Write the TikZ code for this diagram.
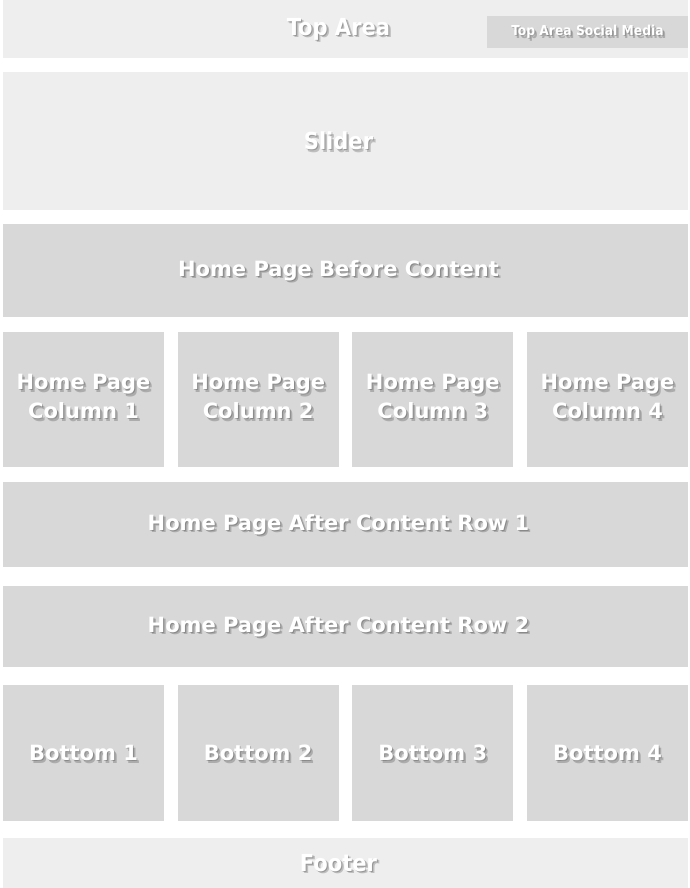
\documentclass[tikz,border=0pt]{standalone}
\usepackage{fontspec}
\setmainfont{DejaVu Sans}
\newfontfamily\condfont{DejaVu Sans Condensed}
\usetikzlibrary{positioning}
\definecolor{areaLight}{HTML}{EEEEEE}
\definecolor{areaDark}{HTML}{D8D8D8}

\begin{document}
\begin{tikzpicture}[node distance=14pt]
    % Define block styles
    \tikzstyle{area} = [rectangle, inner sep=0pt, outer sep=0pt, minimum width=685pt]
    \tikzstyle{light} = [area, fill=areaLight]
    \tikzstyle{dark} = [area, fill=areaDark]
    \tikzstyle{column} = [area, fill=areaDark, minimum width=161pt, minimum height=135pt]
    \tikzstyle{shade} = [text=black, opacity=0.2, align=center]
    \tikzstyle{caption} = [text=white, align=center]
    \tikzset{
      big/.style={font=\bfseries\fontsize{21}{29}\selectfont},
      cond/.style={font=\condfont\bfseries\fontsize{23.4}{28}\selectfont},
      tiny/.style={font=\condfont\bfseries\fontsize{13.7}{16}\selectfont},
      says/.style 2 args={
        label={[shade,#1,xshift=1pt,yshift=-1pt]center:#2},
        label={[shade,#1,xshift=2.5pt,yshift=-2.5pt]center:#2},
        label={[caption,#1]center:#2}}
    }

    \useasboundingbox (0,0) rectangle (690pt,-888pt);

    % Nodes
    \node[light, minimum height=58pt, anchor=north west, says={cond,xshift=-7pt}{Top Area}] (top) at (3pt,0) {};
    \node[dark, minimum width=201pt, minimum height=32pt, below left=16pt and 0pt of top.north east, says={tiny}{Top Area Social Media}] (social) {};
    \node[light, minimum height=138pt, below=of top, says={cond,xshift=-7pt}{Slider}] (slider) {};
    \node[dark, minimum height=93pt, below=of slider, says={big,xshift=-7pt}{Home Page Before Content}] (before) {};

    \node[column, below=15pt of before.south west, anchor=north west, says={big,yshift=3pt}{Home Page\\Column 1}] (col1) {};
    \node[column, right=13.67pt of col1, says={big,yshift=3pt}{Home Page\\Column 2}] (col2) {};
    \node[column, right=13.67pt of col2, says={big,yshift=3pt}{Home Page\\Column 3}] (col3) {};
    \node[column, right=13.67pt of col3, says={big,yshift=3pt}{Home Page\\Column 4}] (col4) {};

    \node[dark, minimum height=85pt, below=15pt of col1.south west, anchor=north west, says={big,xshift=-7pt}{Home Page After Content Row 1}] (row1) {};
    \node[dark, minimum height=81pt, below=19pt of row1, says={big,xshift=-7pt}{Home Page After Content Row 2}] (row2) {};

    \node[column, minimum height=136pt, below=18pt of row2.south west, anchor=north west, says={big}{Bottom 1}] (bot1) {};
    \node[column, minimum height=136pt, right=13.67pt of bot1, says={big}{Bottom 2}] (bot2) {};
    \node[column, minimum height=136pt, right=13.67pt of bot2, says={big}{Bottom 3}] (bot3) {};
    \node[column, minimum height=136pt, right=13.67pt of bot3, says={big}{Bottom 4}] (bot4) {};

    \node[light, minimum height=50pt, below=17pt of bot1.south west, anchor=north west, says={cond,xshift=-7pt}{Footer}] (footer) {};

\end{tikzpicture}
\end{document}
